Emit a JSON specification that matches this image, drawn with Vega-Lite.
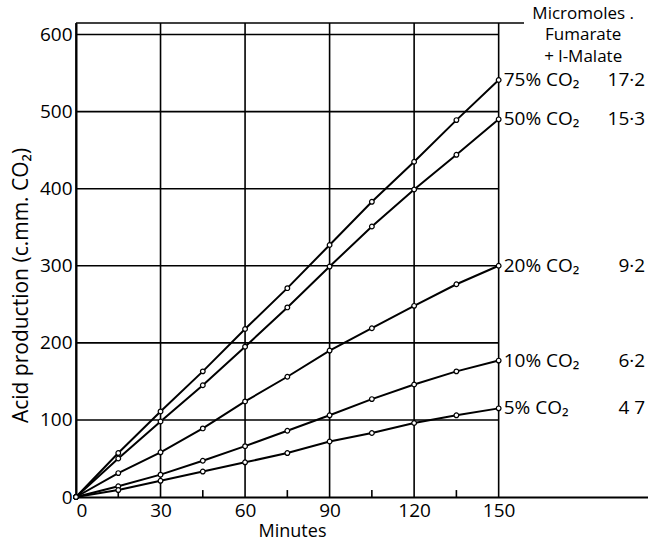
{
  "$schema": "https://vega.github.io/schema/vega-lite/v6.json",
  "width": 572,
  "height": 474,
  "autosize": {"type": "none"},
  "padding": {"left": 76, "top": 23, "right": 0, "bottom": 46},
  "background": "white",
  "config": {
    "font": "Open Sans",
    "view": {"stroke": null},
    "axis": {"labelColor": "black", "titleColor": "black", "domainColor": "black", "titleFontWeight": "normal", "ticks": false, "grid": false, "domainWidth": 2, "labelFontSize": 19},
    "axisX": {"labelPadding": 4, "titleFontSize": 18, "titleX": 216, "titlePadding": 2},
    "axisY": {"labelPadding": 4, "titleFontSize": 21, "titlePadding": 8, "titleY": 262}
  },
  "datasets": {
    "series": [
      {"series": "75", "t": 0, "v": 0}, {"series": "75", "t": 15, "v": 57}, {"series": "75", "t": 30, "v": 111}, {"series": "75", "t": 45, "v": 163}, {"series": "75", "t": 60, "v": 218}, {"series": "75", "t": 75, "v": 271}, {"series": "75", "t": 90, "v": 327}, {"series": "75", "t": 105, "v": 383}, {"series": "75", "t": 120, "v": 435}, {"series": "75", "t": 135, "v": 489}, {"series": "75", "t": 150, "v": 541},
      {"series": "50", "t": 0, "v": 0}, {"series": "50", "t": 15, "v": 50}, {"series": "50", "t": 30, "v": 98}, {"series": "50", "t": 45, "v": 145}, {"series": "50", "t": 60, "v": 195}, {"series": "50", "t": 75, "v": 246}, {"series": "50", "t": 90, "v": 299}, {"series": "50", "t": 105, "v": 351}, {"series": "50", "t": 120, "v": 399}, {"series": "50", "t": 135, "v": 444}, {"series": "50", "t": 150, "v": 490},
      {"series": "20", "t": 0, "v": 0}, {"series": "20", "t": 15, "v": 31}, {"series": "20", "t": 30, "v": 58}, {"series": "20", "t": 45, "v": 89}, {"series": "20", "t": 60, "v": 124}, {"series": "20", "t": 75, "v": 156}, {"series": "20", "t": 90, "v": 190}, {"series": "20", "t": 105, "v": 219}, {"series": "20", "t": 120, "v": 248}, {"series": "20", "t": 135, "v": 276}, {"series": "20", "t": 150, "v": 300},
      {"series": "10", "t": 0, "v": 0}, {"series": "10", "t": 15, "v": 14}, {"series": "10", "t": 30, "v": 29}, {"series": "10", "t": 45, "v": 47}, {"series": "10", "t": 60, "v": 66}, {"series": "10", "t": 75, "v": 86}, {"series": "10", "t": 90, "v": 106}, {"series": "10", "t": 105, "v": 127}, {"series": "10", "t": 120, "v": 146}, {"series": "10", "t": 135, "v": 163}, {"series": "10", "t": 150, "v": 177},
      {"series": "5", "t": 0, "v": 0}, {"series": "5", "t": 15, "v": 9}, {"series": "5", "t": 30, "v": 21}, {"series": "5", "t": 45, "v": 33}, {"series": "5", "t": 60, "v": 45}, {"series": "5", "t": 75, "v": 57}, {"series": "5", "t": 90, "v": 72}, {"series": "5", "t": 105, "v": 83}, {"series": "5", "t": 120, "v": 96}, {"series": "5", "t": 135, "v": 106}, {"series": "5", "t": 150, "v": 115}
    ],
    "labels": [
      {"name": "75% CO₂", "num": "17·2", "t": 150, "v": 541},
      {"name": "50% CO₂", "num": "15·3", "t": 150, "v": 490},
      {"name": "20% CO₂", "num": "9·2", "t": 150, "v": 300},
      {"name": "10% CO₂", "num": "6·2", "t": 150, "v": 177},
      {"name": "5% CO₂", "num": "4 7", "t": 150, "v": 115}
    ],
    "header": [
      {"txt": "Micromoles .", "t": 180, "v": 626.5},
      {"txt": "Fumarate", "t": 180, "v": 599},
      {"txt": "+ l-Malate", "t": 180, "v": 571.5}
    ],
    "vgrid": [{"g": 0}, {"g": 30}, {"g": 60}, {"g": 90}, {"g": 120}, {"g": 150}],
    "hgrid": [{"h": 100}, {"h": 200}, {"h": 300}, {"h": 400}, {"h": 500}, {"h": 600}],
    "minor": [{"m": 15}, {"m": 45}, {"m": 75}, {"m": 105}, {"m": 135}]
  },
  "layer": [
    {
      "data": {"name": "series"},
      "mark": {"type": "line", "color": "black", "strokeWidth": 2},
      "encoding": {
        "x": {"field": "t", "type": "quantitative", "scale": {"domain": [0, 203], "nice": false},
          "axis": {"values": [0, 30, 60, 90, 120, 150], "title": "Minutes"}},
        "y": {"field": "v", "type": "quantitative", "scale": {"domain": [0, 615], "nice": false},
          "axis": {"values": [0, 100, 200, 300, 400, 500, 600], "title": "Acid production (c.mm. CO₂)"}},
        "detail": {"field": "series"}
      }
    },
    {
      "data": {"name": "vgrid"},
      "mark": {"type": "rule", "color": "black", "strokeWidth": 1.6},
      "encoding": {
        "x": {"field": "g", "type": "quantitative", "scale": {"domain": [0, 203], "nice": false}},
        "y": {"datum": 0, "type": "quantitative", "scale": {"domain": [0, 615], "nice": false}},
        "y2": {"datum": 615}
      }
    },
    {
      "data": {"name": "hgrid"},
      "mark": {"type": "rule", "color": "black", "strokeWidth": 1.6},
      "encoding": {
        "y": {"field": "h", "type": "quantitative", "scale": {"domain": [0, 615], "nice": false}},
        "x": {"datum": 0, "type": "quantitative", "scale": {"domain": [0, 203], "nice": false}},
        "x2": {"datum": 150}
      }
    },
    {
      "data": {"values": [{"top": 615}]},
      "mark": {"type": "rule", "color": "black", "strokeWidth": 1.6},
      "encoding": {
        "y": {"field": "top", "type": "quantitative", "scale": {"domain": [0, 615], "nice": false}},
        "x": {"datum": 0, "type": "quantitative", "scale": {"domain": [0, 203], "nice": false}},
        "x2": {"datum": 159}
      }
    },
    {
      "data": {"name": "minor"},
      "mark": {"type": "rule", "color": "black", "strokeWidth": 1.6},
      "encoding": {
        "x": {"field": "m", "type": "quantitative", "scale": {"domain": [0, 203], "nice": false}},
        "y": {"datum": 0, "type": "quantitative", "scale": {"domain": [0, 615], "nice": false}},
        "y2": {"datum": 9}
      }
    },
    {
      "data": {"name": "series"},
      "mark": {"type": "point", "shape": "circle", "filled": false, "fill": "white", "stroke": "black", "strokeWidth": 1.2, "size": 22, "opacity": 1},
      "encoding": {
        "x": {"field": "t", "type": "quantitative", "scale": {"domain": [0, 203], "nice": false}},
        "y": {"field": "v", "type": "quantitative", "scale": {"domain": [0, 615], "nice": false}}
      }
    },
    {
      "data": {"name": "labels"},
      "mark": {"type": "text", "align": "left", "baseline": "middle", "dx": 5, "fontSize": 19, "color": "black"},
      "encoding": {
        "x": {"field": "t", "type": "quantitative", "scale": {"domain": [0, 203], "nice": false}},
        "y": {"field": "v", "type": "quantitative", "scale": {"domain": [0, 615], "nice": false}},
        "text": {"field": "name"}
      }
    },
    {
      "data": {"name": "labels"},
      "mark": {"type": "text", "align": "right", "baseline": "middle", "fontSize": 19, "color": "black"},
      "encoding": {
        "x": {"datum": 202, "type": "quantitative", "scale": {"domain": [0, 203], "nice": false}},
        "y": {"field": "v", "type": "quantitative", "scale": {"domain": [0, 615], "nice": false}},
        "text": {"field": "num"}
      }
    },
    {
      "data": {"name": "header"},
      "mark": {"type": "text", "align": "center", "baseline": "middle", "fontSize": 17, "color": "black"},
      "encoding": {
        "x": {"field": "t", "type": "quantitative", "scale": {"domain": [0, 203], "nice": false}},
        "y": {"field": "v", "type": "quantitative", "scale": {"domain": [0, 615], "nice": false}},
        "text": {"field": "txt"}
      }
    }
  ]
}
